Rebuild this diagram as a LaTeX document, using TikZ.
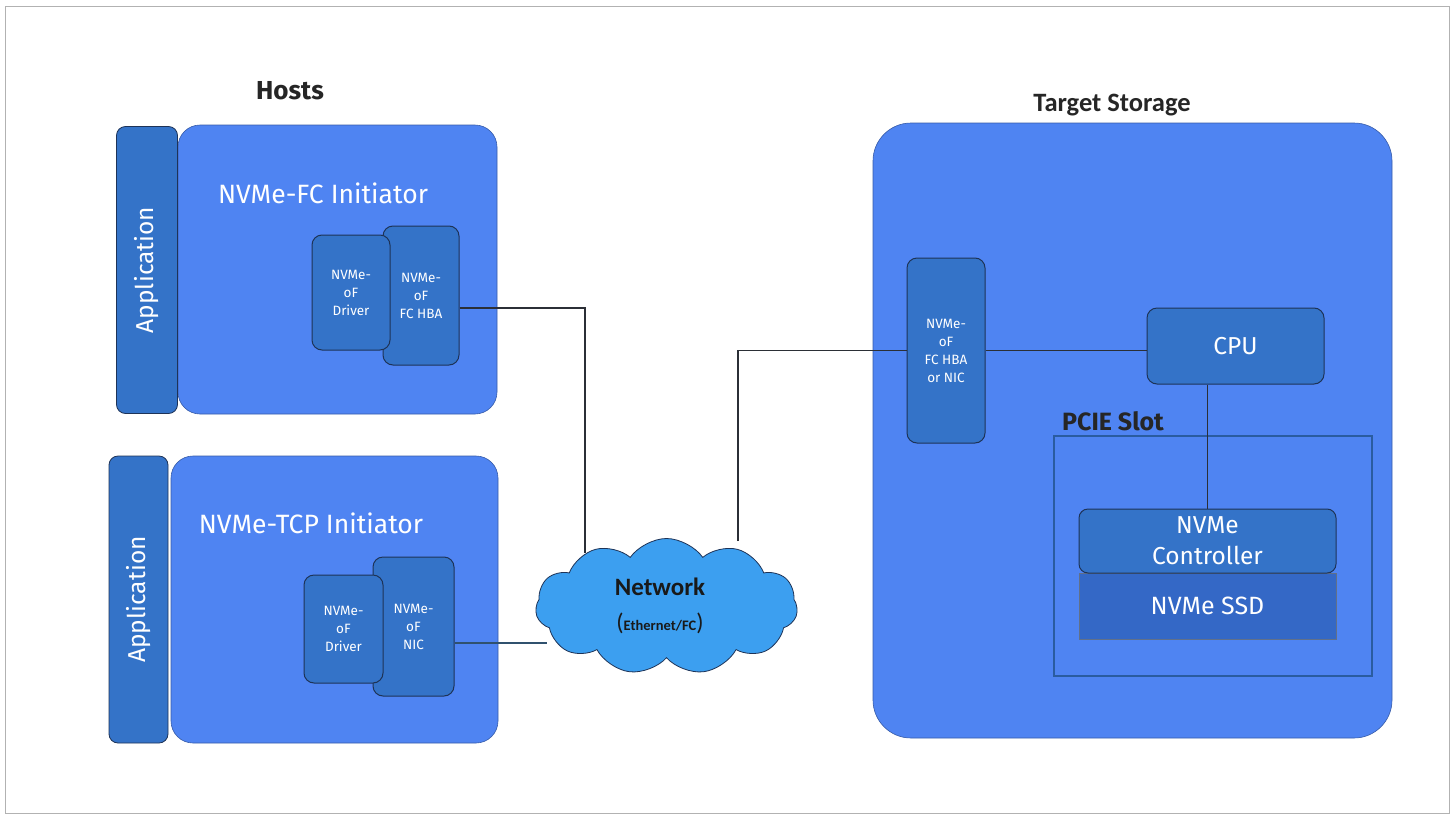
\documentclass[tikz,border=0pt]{standalone}
\usepackage{fontspec}
\setmainfont{Fira Sans}
\newfontfamily\netfont{Carlito}
\usetikzlibrary{shapes.symbols}
\definecolor{mainblue}{HTML}{4F84F2}
\definecolor{innerblue}{HTML}{3473C8}
\definecolor{ssdblue}{HTML}{3468C6}
\definecolor{edgeblue}{HTML}{1E3357}
\definecolor{cloudblue}{HTML}{3C9FF0}
\definecolor{wirecol}{HTML}{2B2F36}
\begin{document}
\begin{tikzpicture}[x=1pt,y=-1pt,
  mainbox/.style={draw=mainblue!70!black, line width=0.6pt, fill=mainblue, rounded corners=22pt, inner sep=0pt},
  appbar/.style={draw=edgeblue, line width=0.8pt, fill=innerblue, rounded corners=9pt, inner sep=0pt},
  apptext/.style={rotate=90, text=white, font=\fontsize{24.5}{28}\selectfont},
  smallbox/.style={draw=edgeblue, line width=1pt, fill=innerblue, rounded corners=10pt, inner sep=0pt,
     text=white, align=center, font=\fontsize{13.5}{18}\selectfont},
  midbox/.style={draw=edgeblue, line width=1pt, fill=innerblue, rounded corners=10pt, inner sep=0pt,
     text=white, align=center, font=\fontsize{24.5}{31}\selectfont},
  title/.style={text=white, font=\fontsize{26.5}{30}\selectfont},
  heading/.style={text=black!85, font=\bfseries\fontsize{25}{29}\selectfont},
  wire/.style={draw=wirecol, line width=1.1pt}
]
\useasboundingbox (0,0) rectangle (1453,814);
\fill[white] (0,0) rectangle (1453,814);
\draw[gray!60, line width=1pt] (5,6) rectangle (1449,813);

% headings
\node[heading, font=\bfseries\fontsize{26}{30}\selectfont] (hosts) at (290,91) {Hosts};
\node[text=black!85, font=\netfont\bfseries\fontsize{26.5}{30}\selectfont] (tgt) at (1112,105) {Target Storage};

% host 1
\node[mainbox, minimum width=319, minimum height=289] (host1) at (337.5,269.5) {};
\node[appbar, minimum width=61, minimum height=287] (app1) at (147,270) {};
\node[apptext] (app1t) at (147,270) {Application};
\node[title] (t1) at (323,193) {NVMe-FC Initiator};
\node[smallbox, minimum width=76, minimum height=139] (hba1) at (421,295.5) {NVMe-\\oF\\FC HBA};
\node[smallbox, minimum width=78, minimum height=115] (drv1) at (351,292.5) {NVMe-\\oF\\Driver};

% host 2
\node[mainbox, minimum width=327, minimum height=287] (host2) at (334.5,599.5) {};
\node[appbar, minimum width=59, minimum height=287] (app2) at (138.5,599.5) {};
\node[apptext] (app2t) at (138.5,599.5) {Application};
\node[title] (t2) at (311,523) {NVMe-TCP Initiator};
\node[smallbox, minimum width=81, minimum height=139] (nic2) at (413.5,626.5) {NVMe-\\oF\\NIC};
\node[smallbox, minimum width=79, minimum height=108] (drv2) at (343.5,629) {NVMe-\\oF\\Driver};

% network cloud
\node[cloud, cloud puffs=11, cloud puff arc=110, aspect=1.9, draw=edgeblue, line width=0.8pt,
      fill=cloudblue, minimum width=262, minimum height=136, inner sep=0pt] (net) at (666.5,606.5) {};
\node[font=\netfont\bfseries\fontsize{25}{28}\selectfont, text=black!90] (netT) at (660,587) {Network};
\node[font=\netfont\bfseries\fontsize{14.5}{16}\selectfont, text=black!90] (netS) at (660,623)
   {{\fontsize{24}{26}\selectfont\mdseries(}Ethernet/FC{\fontsize{24}{26}\selectfont\mdseries)}};

% target storage
\node[mainbox, rounded corners=38pt, minimum width=519, minimum height=615] (ts) at (1132.5,430.5) {};
\node[smallbox, minimum width=78, minimum height=185] (thba) at (946,350.5) {NVMe-\\oF\\FC HBA\\or NIC};
\node[midbox, minimum width=177, minimum height=76] (cpu) at (1235.5,346) {CPU};
\node[draw=innerblue!80!black, line width=1.3pt, minimum width=318, minimum height=240, inner sep=0pt] (slot) at (1213,556) {};
\node[heading, anchor=south west, inner sep=0pt] (slotT) at (1062,431) {PCIE Slot};
\node[draw=edgeblue!70, line width=0.8pt, fill=ssdblue, minimum width=257, minimum height=66, inner sep=0pt,
      text=white, font=\fontsize{25}{29}\selectfont] (ssd) at (1207.5,606) {NVMe SSD};
\node[midbox, minimum width=257, minimum height=64, rounded corners=9pt] (ctrl) at (1207.5,541) {NVMe\\Controller};

% connectors
\coordinate (netA) at (585,553);
\coordinate (netB) at (738,541);
\coordinate (netC) at (547,643);
\draw[wire] (hba1.east |- 0,308) -| (netA);
\draw[wire, draw=wirecol!70!cloudblue] (nic2.east |- 0,643) -- (netC);
\draw[wire] (netB) |- (thba.west);
\draw[wire] (thba.east) -- (cpu.west |- thba.east);
\draw[wire] (cpu.south -| ctrl.north) -- (ctrl.north);
\end{tikzpicture}
\end{document}
